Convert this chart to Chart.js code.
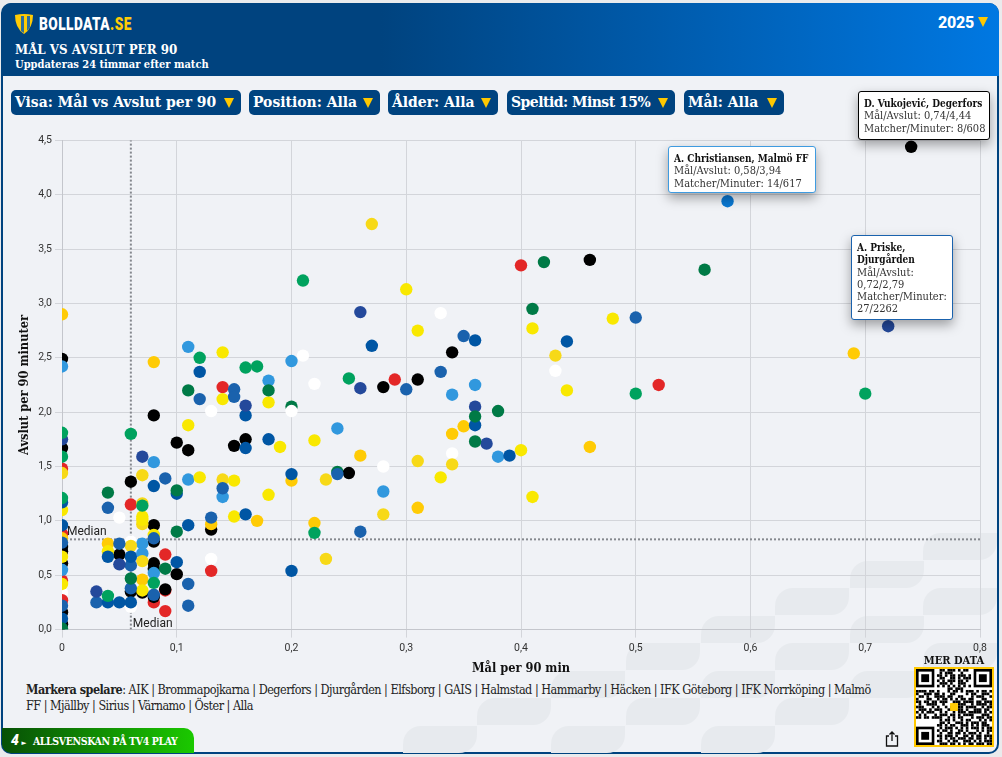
<!DOCTYPE html>
<html lang="sv">
<head>
<meta charset="utf-8">
<title>Mål vs avslut per 90</title>
<script src="https://cdn.jsdelivr.net/npm/chart.js@4"></script>
<style>
  html, body { margin: 0; padding: 0; width: 1002px; height: 757px; overflow: hidden; background: #eaebed; }
  body { font-family: "DejaVu Serif Condensed", "DejaVu Serif", serif; font-stretch: condensed; }
  #frame { position: absolute; left: 1px; top: 3px; width: 994px; height: 747px; background: #f0f2f6; border: 2px solid #00437f; border-radius: 10px; overflow: hidden; }
  #page { position: absolute; left: 0; top: 0; width: 1002px; height: 757px; }
  #header { position: absolute; left: 2px; top: 3px; width: 997px; height: 73px; background: linear-gradient(90deg, #00437f 0%, #00437f 38%, #0078e2 100%); border-radius: 10px 10px 0 0; color: #fff; }
  #brand { position: absolute; left: 37px; top: 10px; font: 900 18.5px Roboto, sans-serif; transform: scaleX(.74); transform-origin: left center; letter-spacing: .6px; white-space: nowrap; }
  #brand span { color: #ffcb05; }
  #logo { position: absolute; left: 13px; top: 11px; }
  #title { position: absolute; left: 13px; top: 39px; font-weight: 700; font-size: 13.2px; line-height: 15px; white-space: nowrap; }
  #sub { position: absolute; left: 13px; top: 55px; font-size: 11px; line-height: 13px; font-weight: 700; white-space: nowrap; }
  #year { position: absolute; left: 936px; top: 10px; font: 800 16px Roboto, sans-serif; letter-spacing: -.2px; }
  .tri { position: absolute; width: 0; height: 0; border-left: 5.5px solid transparent; border-right: 5.5px solid transparent; border-top: 10px solid #ffc800; }
  .pill { position: absolute; top: 90px; height: 25px; background: #00437f; border-radius: 5px; color: #fff; font-weight: 700; font-size: 15.5px; line-height: 24px; padding-left: 4px; box-sizing: border-box; white-space: nowrap; }
  #chartBox { position: absolute; left: 0; top: 120px; width: 1002px; height: 560px; }
  .wm { position: absolute; width: 74px; height: 27px; background: #e7eaee; border-radius: 18px 0 18px 0; }
  .callout { position: absolute; background: #fff; border: 1px solid #000; border-radius: 3px; box-shadow: 0 5px 12px rgba(0,0,0,.35); box-sizing: border-box; padding: 6px 5px 0 5px; font-size: 11px; line-height: 12.3px; color: #333; white-space: nowrap; }
  .callout b { color: #111; display: inline-block; transform: scaleX(.91); transform-origin: left center; }
  #links { position: absolute; left: 26px; top: 682px; width: 860px; font-size: 12.5px; line-height: 16px; letter-spacing: -.5px; color: #222; }
  #tv4 { position: absolute; left: 2px; top: 728px; width: 192px; height: 25px; background: linear-gradient(90deg, #075006 0%, #1bc900 100%); border-radius: 0 10px 0 9px; color: #fff; font-weight: 700; font-size: 10.5px; letter-spacing: -.4px; line-height: 26px; white-space: nowrap; }
  #more { position: absolute; left: 914px; top: 654px; width: 80px; text-align: center; font-weight: 700; font-size: 11px; line-height: 14px; color: #111; white-space: nowrap; }
  #qr { position: absolute; left: 914px; top: 667px; width: 76px; height: 76px; border: 2px solid #ffc800; background: #fff; }
  #share { position: absolute; left: 885px; top: 731px; }
</style>
</head>
<body>
<div id="page">
  <div id="frame"></div>
  <div id="marks"></div>
  <div id="header">
    <svg id="logo" width="18" height="20" viewBox="0 0 18 20">
      <path d="M0 1 Q9 -1 18 1 Q18 14 9 20 Q0 14 0 1Z" fill="#ffcb05"/>
      <path d="M6 2h3v17l-3-2zM12 2h3v11l-3 4z" fill="#2c6f9f"/>
    </svg>
    <div id="brand">BOLLDATA<span>.SE</span></div>
    <div id="title">MÅL VS AVSLUT PER 90</div>
    <div id="sub">Uppdateras 24 timmar efter match</div>
    <div id="year">2025</div>
    <div class="tri" style="left:976px;top:14px"></div>
  </div>
  <div id="pills"></div>
  <div id="chartBox"><canvas id="scatter" width="1002" height="560"></canvas></div>
  <div id="notes"></div>
  <div id="links"><b>Markera spelare</b>: AIK | Brommapojkarna | Degerfors | Djurgården | Elfsborg | GAIS | Halmstad | Hammarby | Häcken | IFK Göteborg | IFK Norrköping | Malmö FF | Mjällby | Sirius | Värnamo | Öster | Alla</div>
  <div id="tv4"><span style="font:italic 900 14px Roboto,sans-serif;margin-left:9px">4</span><span style="font-size:7px;margin:0 7px 0 3px">&#9658;</span>ALLSVENSKAN PÅ TV4 PLAY</div>
  <svg id="share" width="14" height="16" viewBox="0 0 14 16" fill="none" stroke="#111" stroke-width="1.3">
    <path d="M4 5H1.5v10h11V5H10M7 10V1M4.5 3.5L7 1l2.5 2.5"/>
  </svg>
  <div id="more">MER DATA</div>
  <div id="qr"><canvas id="qrCanvas" width="76" height="76"></canvas></div>
</div>

<script>
// axis ticks
const xTicks = [0, 0.1, 0.2, 0.3, 0.4, 0.5, 0.6, 0.7, 0.8];
const yTicks = [0, 0.5, 1, 1.5, 2, 2.5, 3, 3.5, 4, 4.5];
const medianGoals = 0.06;
const medianShots = 0.83;

// players as [goals per 90, shots per 90], grouped by club colour
const darkGreenBack = [[0.20,2.05],[0.24,1.45]];
const whitePlayers = [[0.13,2.01],[0.20,2.01],[0.21,2.52],[0.22,2.26],[0.33,2.91],[0.43,2.38],[0.34,1.62],[0.28,1.50],
  [0.05,1.03],[0.06,0.81],[0.13,0.65],[0.06,0.21],[0,0.34]];
const redPlayers = [[0.14,2.23],[0.06,1.15],[0.29,2.30],[0.40,3.35],[0.52,2.25],[0.09,0.69],[0.13,0.54],[0.09,0.36],
  [0.08,0.25],[0.09,0.17],[0,1.48],[0,0.88],[0,0.45],[0,0.27]];
const blackPlayers = [[0.74,4.44],[0.46,3.40],[0.34,2.55],[0.28,2.23],[0.31,2.30],[0.08,1.97],[0.10,1.72],[0.11,1.65],
  [0.15,1.69],[0.16,1.75],[0.25,1.44],[0.06,1.36],[0.08,0.96],[0.13,0.92],[0.08,0.81],[0.05,0.69],[0.08,0.61],[0.08,0.56],
  [0.10,0.51],[0.06,0.35],[0.07,0.34],[0.09,0.37],[0.08,0.30],[0,2.49],[0,1.67],[0,0.76],[0,0.72],[0,0.61],[0,0.16],[0,0.05]];
const lightBluePlayers = [[0.11,2.60],[0.18,2.29],[0.20,2.47],[0.24,1.85],[0.08,1.54],[0.11,1.38],[0.14,1.22],[0.36,2.25],
  [0.34,2.16],[0.28,1.27],[0.38,1.59],[0.07,0.79],[0.07,0.70],[0.08,0.52],[0,2.42],[0,0.55]];
const goldPlayers = [[0.08,2.46],[0.26,1.60],[0.20,1.37],[0.17,1.00],[0.22,0.98],[0.13,0.97],[0.35,1.87],[0.34,1.80],
  [0.31,1.12],[0.69,2.54],[0.46,1.68],[0.04,0.79],[0.07,0.46],[0,2.90],[0,0.84]];
const goldenPlayers = [[0.27,3.73],[0.07,1.42],[0.14,1.38],[0.23,1.38],[0.07,1.16],[0.07,0.97],[0.43,2.52],[0.31,1.55],
  [0.34,1.52],[0.28,1.06],[0.23,0.65],[0.06,0.77],[0.07,0.63],[0,1.44]];
const yellowPlayers = [[0.30,3.13],[0.14,2.55],[0.18,2.09],[0.14,2.12],[0.11,1.88],[0.19,1.68],[0.22,1.74],[0.12,1.40],
  [0.15,1.37],[0.18,1.24],[0.15,1.04],[0.07,1.04],[0.07,1.01],[0.08,0.87],[0.31,2.75],[0.41,2.77],[0.44,2.20],[0.33,1.40],
  [0.40,1.65],[0.41,1.22],[0.48,2.86],[0.04,0.72],[0.07,0.36],[0,1.10],[0,0.67],[0,0.42]];
const midBluePlayers = [[0.12,2.12],[0.15,2.21],[0.15,2.14],[0.09,1.39],[0.14,1.30],[0.13,1.03],[0.24,1.43],[0.26,0.90],
  [0.35,2.70],[0.30,2.21],[0.33,2.37],[0.50,2.87],[0.04,1.12],[0.05,0.79],[0.08,0.84],[0.06,0.59],[0.11,0.42],[0.06,0.38],
  [0.08,0.32],[0.03,0.25],[0.11,0.22],[0,0.80],[0,0.22]];
const deepBluePlayers = [[0.12,2.37],[0.16,1.97],[0.16,1.67],[0.18,1.75],[0.20,1.43],[0.08,1.32],[0.10,1.25],[0.11,0.96],
  [0.16,1.06],[0.27,2.61],[0.36,2.66],[0.44,2.65],[0.36,1.88],[0.39,1.60],[0.04,0.67],[0.06,0.67],[0.10,0.62],[0.20,0.54],
  [0.06,0.25],[0.05,0.25],[0.04,0.25],[0,0.96],[0,0.10],[0,1.17]];
const navyPlayers = [[0.26,2.92],[0.26,2.22],[0.16,2.06],[0.07,1.59],[0.37,1.71],[0.36,2.05],[0.72,2.79],[0.05,0.60],[0.03,0.35],[0,1.75]];
const brightBluePlayers = [[0.58,3.94]];
const darkGreenPlayers = [[0.11,2.20],[0.18,2.20],[0.10,1.28],[0.10,0.90],[0.42,3.38],[0.56,3.31],[0.41,2.95],[0.38,2.01],
  [0.36,1.96],[0.36,1.73],[0.04,1.26],[0.09,0.56],[0.06,0.47],[0,0.01]];
const greenPlayers = [[0.21,3.21],[0.12,2.50],[0.16,2.41],[0.17,2.42],[0.25,2.31],[0.06,1.80],[0.07,1.14],[0.22,0.89],
  [0.50,2.17],[0.70,2.17],[0.08,0.43],[0.04,0.31],[0,1.81],[0,1.59],[0,1.21]];

const filterLabels = ['Visa: Mål vs Avslut per 90', 'Position: Alla', 'Ålder: Alla', 'Speltid: Minst 15%', 'Mål: Alla'];
const filterLefts = [11, 249, 388, 507, 684];
const filterWidths = [230, 131, 110, 168, 100];
const filterSpacing = [0, 0, 0, -0.5, 0];

const pointRadius = 6.2;

function playerSet(points, color) {
    return {
        data: points.map(p => ({ x: p[0], y: p[1] })),
        backgroundColor: color,
        pointRadius: pointRadius,
        pointHoverRadius: pointRadius,
        borderWidth: 0
    };
}

function medianSet(points) {
    return {
        type: 'line',
        data: points,
        showLine: true,
        borderColor: '#85888e',
        borderWidth: 2,
        borderDash: [2, 2],
        pointRadius: 0,
        order: 100
    };
}

// listed bottom to top; Chart.js paints the highest order first
const playerSets = [
    playerSet(darkGreenBack, '#007a46'),
    playerSet(whitePlayers, '#ffffff'),
    playerSet(redPlayers, '#e32727'),
    playerSet(blackPlayers, '#000000'),
    playerSet(lightBluePlayers, '#3198de'),
    playerSet(goldPlayers, '#ffcb05'),
    playerSet(goldenPlayers, '#f7d917'),
    playerSet(yellowPlayers, '#f9e800'),
    playerSet(midBluePlayers, '#1a62ad'),
    playerSet(deepBluePlayers, '#0056a4'),
    playerSet(navyPlayers, '#24499b'),
    playerSet(brightBluePlayers, '#0a78d2'),
    playerSet(darkGreenPlayers, '#007a46'),
    playerSet(greenPlayers, '#00a25e')
];
playerSets.forEach((set, i) => { set.order = playerSets.length - i; });

// labels sit under the dots, so draw them before the datasets
const medianLabels = {
    id: 'medianLabels',
    beforeDatasetsDraw(chart) {
        const { ctx, scales: { x, y } } = chart;
        ctx.save();
        ctx.font = '12px Roboto, sans-serif';
        ctx.fillStyle = '#222';
        ctx.textBaseline = 'middle';
        ctx.fillText('Median', x.getPixelForValue(0) + 5, y.getPixelForValue(medianShots) - 7);
        ctx.fillText('Median', x.getPixelForValue(medianGoals) + 2, y.getPixelForValue(0) - 6);
        ctx.restore();
    }
};

const tickFont = { family: 'Roboto, sans-serif', size: 10.5 };
const titleFont = { family: '"DejaVu Serif Condensed", "DejaVu Serif", serif', size: 12.7, weight: 'bold' };

new Chart(document.getElementById('scatter').getContext('2d'), {
    type: 'scatter',
    data: {
        datasets: [
            medianSet([{ x: medianGoals, y: 0 }, { x: medianGoals, y: 4.5 }]),
            medianSet([{ x: 0, y: medianShots }, { x: 0.8, y: medianShots }]),
            ...playerSets
        ]
    },
    options: {
        responsive: false,
        animation: false,
        layout: { padding: { top: 20.3, right: 22, left: 0, bottom: 0 } },
        plugins: { legend: { display: false }, tooltip: { enabled: false } },
        scales: {
            x: {
                min: 0,
                max: 0.8,
                afterBuildTicks: axis => { axis.ticks = xTicks.map(value => ({ value })); },
                afterFit: axis => { axis.height = 50.4; },
                grid: { color: '#d3d5da', tickLength: 8, lineWidth: 1 },
                border: { color: '#c4c6cc' },
                ticks: {
                    maxRotation: 0,
                    padding: 4,
                    font: tickFont,
                    color: '#333',
                    callback: value => String(value).replace('.', ',')
                },
                title: { display: true, text: 'Mål per 90 min', font: titleFont, color: '#111', padding: { top: 3, bottom: 4 } }
            },
            y: {
                min: 0,
                max: 4.5,
                afterBuildTicks: axis => { axis.ticks = yTicks.map(value => ({ value })); },
                afterFit: axis => { axis.width = 62; },
                grid: { color: '#d3d5da', tickLength: 7, lineWidth: 1 },
                border: { color: '#c4c6cc' },
                ticks: {
                    padding: 3,
                    font: tickFont,
                    color: '#333',
                    callback: value => value.toFixed(1).replace('.', ',')
                },
                title: { display: true, text: 'Avslut per 90 minuter', font: titleFont, color: '#111', padding: { top: 17, bottom: 0 } }
            }
        }
    },
    plugins: [medianLabels]
});

// filter pills
const pills = document.getElementById('pills');
filterLabels.forEach((label, i) => {
    const pill = document.createElement('div');
    pill.className = 'pill';
    pill.style.left = filterLefts[i] + 'px';
    pill.style.width = filterWidths[i] + 'px';
    pill.style.letterSpacing = filterSpacing[i] + 'px';
    pill.innerHTML = label + `<span class="tri" style="right:7px;top:8px"></span>`;
    pills.appendChild(pill);
});

// player boxes
const notes = [
    { left: 858, top: 91, width: 132, height: 49, border: '#000', html: '<b>D. Vukojević, Degerfors</b><br>Mål/Avslut: 0,74/4,44<br>Matcher/Minuter: 8/608' },
    { left: 668, top: 146, width: 148, height: 47, border: '#3f9be0', html: '<b>A. Christiansen, Malmö FF</b><br>Mål/Avslut: 0,58/3,94<br>Matcher/Minuter: 14/617' },
    { left: 851, top: 235, width: 102, height: 85, border: '#1a62ad', html: '<b>A. Priske,<br>Djurgården</b><br>Mål/Avslut:<br>0,72/2,79<br>Matcher/Minuter:<br>27/2262' }
];
notes.forEach(note => {
    const box = document.createElement('div');
    box.className = 'callout';
    box.style.cssText = `left:${note.left}px;top:${note.top}px;width:${note.width}px;height:${note.height}px;border-color:${note.border}`;
    box.innerHTML = note.html;
    document.getElementById('notes').appendChild(box);
});

// background tiles behind the chart
const tileRows = [[533, 923], [561, 850], [588, 775], [588, 923], [616, 701], [616, 850], [643, 626], [643, 775], [643, 923],
    [671, 551], [671, 701], [671, 850], [698, 477], [698, 626], [698, 775], [726, 403], [726, 551], [726, 701]];
const marks = document.getElementById('marks');
tileRows.forEach(([top, left]) => {
    const tile = document.createElement('div');
    tile.className = 'wm';
    tile.style.left = left + 'px';
    tile.style.top = top + 'px';
    marks.appendChild(tile);
});

// qr code picture
const qrRows = [
    '.........##.###.#.##.........',
    '.........#.###...#...........',
    '........##.#.##.###.#........',
    '.........##..##.#.###........',
    '........#.#.###.##.#.........',
    '.........###.#..###..........',
    '........#.#.#.#.#.#.#........',
    '............##.###...........',
    '####.##.#...#.##.#.###.#.##.#',
    '#..###.##.#..##....#.##..###.',
    '.##.#..####.##..##...#.###..#',
    '#...##..#.##.#.#.##.##...##..',
    '##.##.##.###..###.####.##.###',
    '.#..####..#...#.###..#.####.#',
    '###...#.#..#.#..##.####..#.##',
    '.###.#.###..##.###.#..###.##.',
    '#.#.###..#.#..#.###.#####.#.#',
    '.#.#...#.###.##.#.####...###.',
    '##.##.####..#.#.##...#.###.##',
    '.........#.##.#..#.##...#.#.#',
    '.........##.#..###.#.###.##..',
    '........##.#.##..###.#.#.###.',
    '.........#.###.#.#.#.###.#.##',
    '........#.##.#..##.#...#.#.##',
    '.........#..##.##.#.###.#..#.',
    '........##.###.#..##.#.##.###',
    '.........#.#.##.###.##.##.#.#',
    '........##..#.##..###.#.#.###',
    '.........###.##.#.#.##.###.##'
];
function drawQr() {
    const c = document.getElementById('qrCanvas').getContext('2d');
    const m = 76 / 29;
    const rect = (col, row, w, h, color) => {
        c.fillStyle = color;
        c.fillRect(col * m, row * m, w * m, h * m);
    };
    qrRows.forEach((row, r) => {
        [...row].forEach((ch, col) => { if (ch === '#') rect(col, r, 1, 1, '#000'); });
    });
    [[0, 0], [22, 0], [0, 22]].forEach(([col, row]) => {
        rect(col, row, 7, 7, '#000');
        rect(col + 1, row + 1, 5, 5, '#fff');
        rect(col + 2, row + 2, 3, 3, '#000');
    });
    rect(13, 13, 3, 3, '#ffcb05');
}
drawQr();
</script>
</body>
</html>
